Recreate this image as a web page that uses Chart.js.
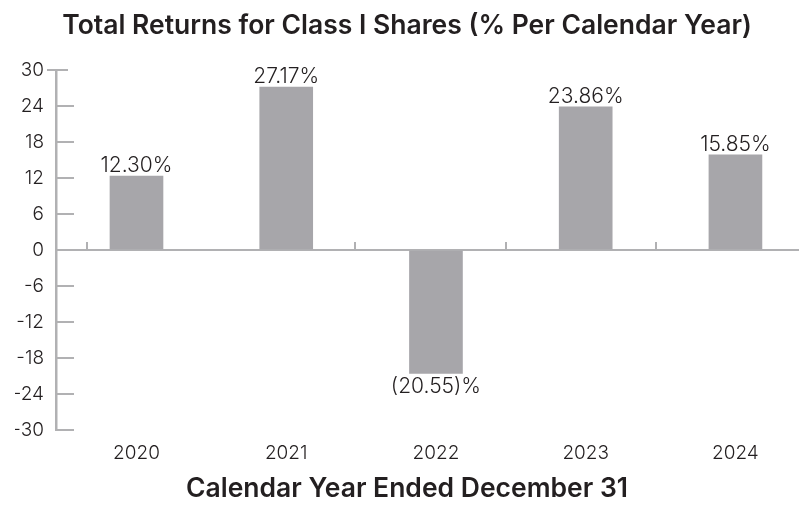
<!DOCTYPE html>
<html>
<head>
<meta charset="utf-8">
<script src="https://cdn.jsdelivr.net/npm/chart.js@4.4.1/dist/chart.umd.min.js"></script>
<style>
  html, body { margin: 0; padding: 0; background: #ffffff; }
  #wrap { width: 799px; height: 523px; }
</style>
</head>
<body>
<div id="wrap"><canvas id="c" width="799" height="523"></canvas></div>
<script>
// ---- data ----
const categories = [2020, 2021, 2022, 2023, 2024];
const returnsPct = [12.30, 27.17, -20.55, 23.86, 15.85];
const yTickValues = [-30, -24, -18, -12, -6, 0, 6, 12, 18, 24, 30];
const xBoundaryTicks = [2019.67, 2021.46, 2022.47, 2023.47];
const chartTitle = 'Total Returns for Class I Shares (% Per Calendar Year)';
const xAxisTitle = 'Calendar Year Ended December 31';

const TEXT = '#231f20';
const AXIS = '#b1b1b3';
const BAR = '#a7a6aa';
const FONT = 'Inter, "Noto Sans", "DejaVu Sans", sans-serif';

function fmt(v) {
  return v < 0 ? '(' + Math.abs(v).toFixed(2) + ')%' : v.toFixed(2) + '%';
}

const decorPlugin = {
  id: 'decor',
  afterDatasetsDraw(chart) {
    const ctx = chart.ctx;
    const xs = chart.scales.x, ys = chart.scales.y;
    const left = chart.chartArea.left;
    ctx.save();
    ctx.strokeStyle = AXIS;
    ctx.lineWidth = 2;
    // y tick marks (inward)
    yTickValues.forEach(v => {
      const y = Math.round(ys.getPixelForValue(v));
      ctx.beginPath();
      if (v === ys.max) { ctx.moveTo(left - 9, y); ctx.lineTo(left + 12, y); }
      else { ctx.moveTo(left, y); ctx.lineTo(left + 18, y); }
      ctx.stroke();
    });
    // x boundary ticks (upward from zero line)
    const y0 = ys.getPixelForValue(0);
    xBoundaryTicks.forEach(v => {
      const x = Math.round(xs.getPixelForValue(v));
      ctx.beginPath();
      ctx.moveTo(x, y0 - 8);
      ctx.lineTo(x, y0);
      ctx.stroke();
    });
    // value labels
    const meta = chart.getDatasetMeta(0);
    ctx.fillStyle = TEXT;
    ctx.font = '300 21px ' + FONT;
    ctx.textAlign = 'center';
    meta.data.forEach((bar, i) => {
      const v = returnsPct[i];
      if (v >= 0) {
        ctx.textBaseline = 'alphabetic';
        ctx.fillText(fmt(v), bar.x, bar.y - 4);
      } else {
        ctx.textBaseline = 'top';
        ctx.fillText(fmt(v), bar.x, bar.y + 3);
      }
    });
    ctx.restore();
  }
};

new Chart(document.getElementById('c'), {
  type: 'bar',
  data: {
    datasets: [{
      data: categories.map((c, i) => ({ x: c, y: returnsPct[i] })),
      backgroundColor: BAR,
      borderWidth: 0,
      barThickness: 53
    }]
  },
  options: {
    responsive: false,
    animation: false,
    devicePixelRatio: 1,
    layout: { padding: { left: 15, right: 0, top: 0, bottom: 0 } },
    plugins: {
      legend: { display: false },
      tooltip: { enabled: false },
      title: {
        display: true,
        text: chartTitle,
        color: TEXT,
        font: { family: FONT, size: 26.5, weight: '600' },
        padding: { top: 10, bottom: 28.2 }
      },
      subtitle: {
        display: true,
        position: 'bottom',
        text: xAxisTitle,
        color: TEXT,
        font: { family: FONT, size: 26.5, weight: '600' },
        padding: { top: 10, bottom: 18 }
      }
    },
    scales: {
      x: {
        type: 'linear',
        offset: false,
        min: 2019.4625,
        max: 2024.4245,
        grid: { display: false, drawTicks: false, offset: false },
        border: { display: false },
        ticks: {
          stepSize: 1,
          includeBounds: false,
          padding: 12,
          color: TEXT,
          font: { family: FONT, size: 19, weight: '300' },
          callback: v => Number.isInteger(v) ? String(v) : ''
        },
        afterFit: s => { s.height = 33.2; }
      },
      y: {
        min: -30,
        max: 30,
        afterBuildTicks: s => { s.ticks = yTickValues.map(v => ({ value: v })); },
        grid: {
          drawTicks: false,
          color: c => (c.tick && c.tick.value === 0) ? AXIS : 'rgba(0,0,0,0)',
          lineWidth: 2
        },
        border: { display: true, color: AXIS, width: 2.5 },
        ticks: {
          padding: 12,
          color: TEXT,
          font: { family: FONT, size: 19, weight: '300' }
        },
        afterFit: s => { s.width = 41; }
      }
    }
  },
  plugins: [decorPlugin]
});
</script>
</body>
</html>
